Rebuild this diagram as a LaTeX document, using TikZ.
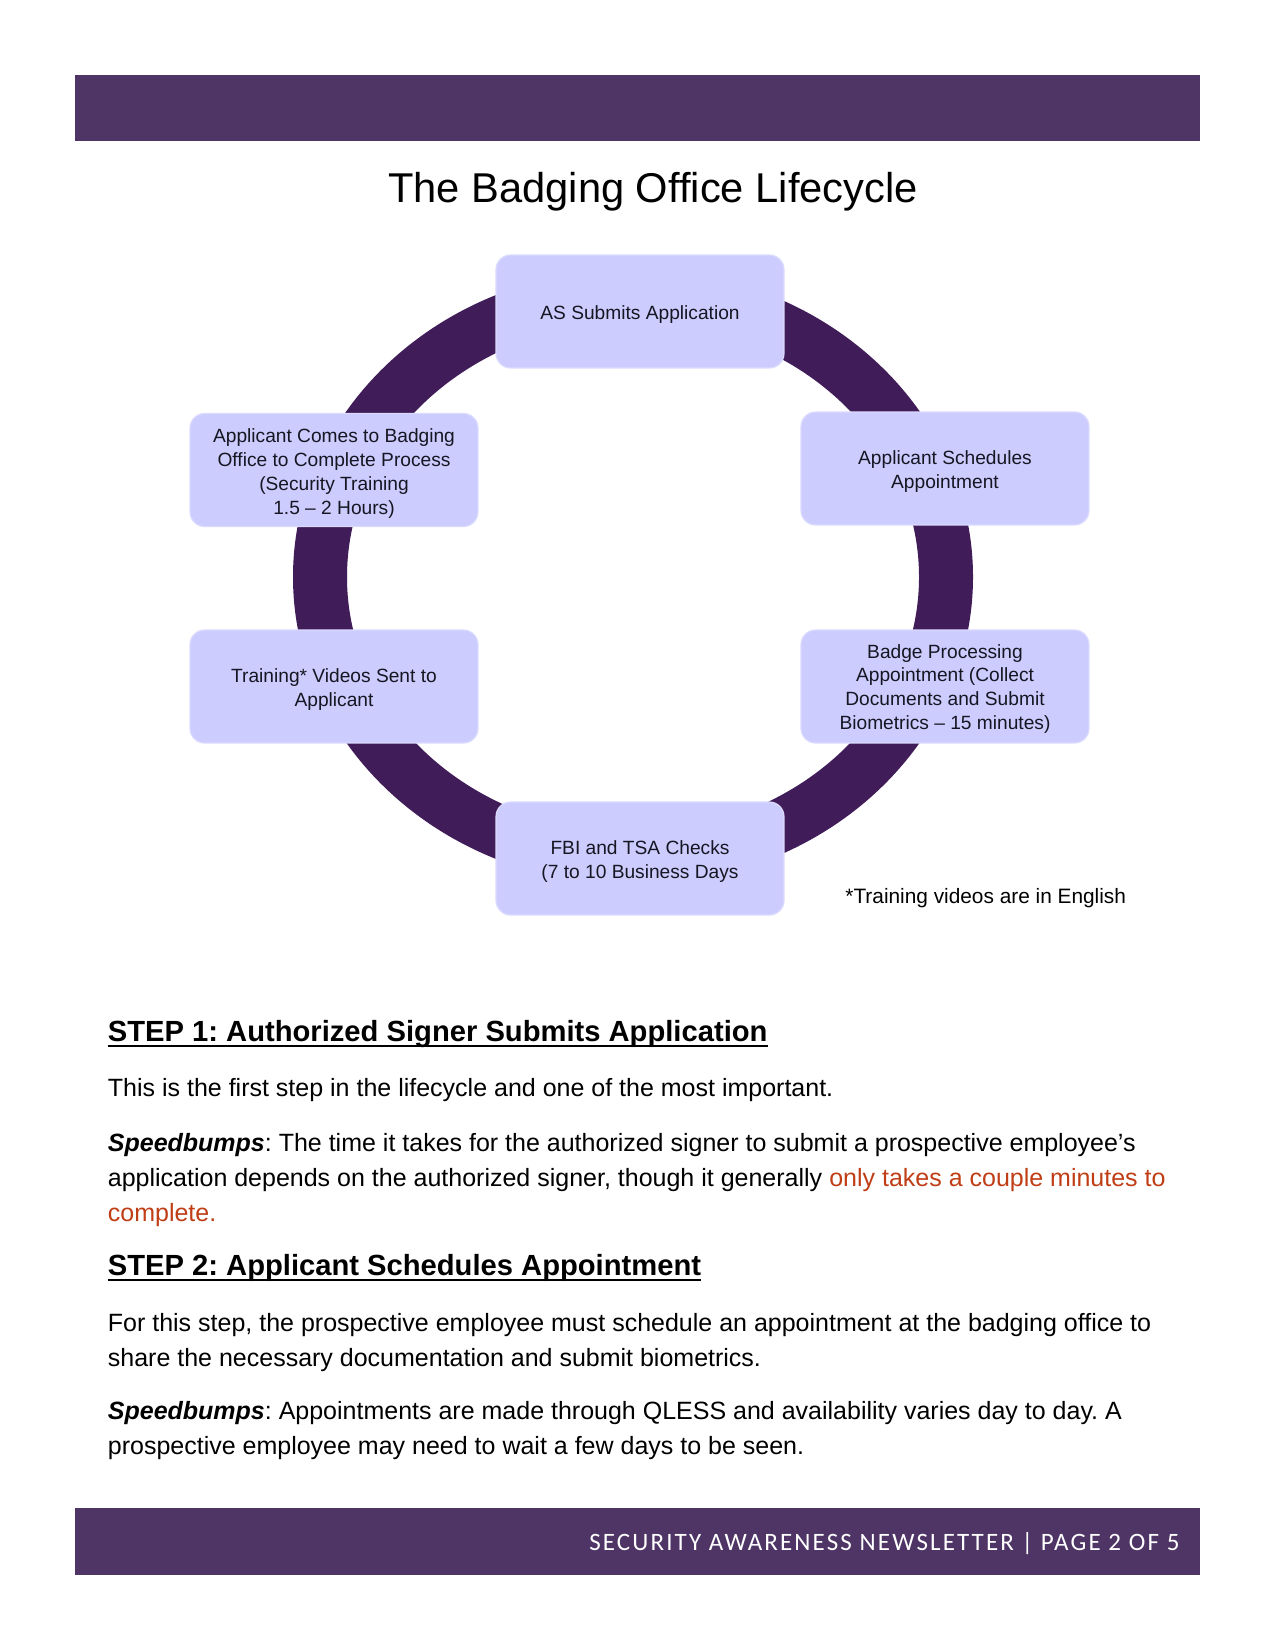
\documentclass[tikz,border=0pt]{standalone}
\usepackage{fontspec}
\setmainfont{Liberation Sans}
\newfontfamily\footfont[LetterSpace=8.5]{Carlito}
\definecolor{barcol}{RGB}{79,52,102}
\definecolor{ringcol}{RGB}{64,28,88}
\definecolor{boxfill}{RGB}{204,204,255}
\definecolor{boxedge}{RGB}{218,218,255}
\definecolor{hilite}{RGB}{192,62,22}
\definecolor{boxtext}{RGB}{22,22,34}
\begin{document}
\frenchspacing
\begin{tikzpicture}[x=0.48pt,y=-0.48pt,
  stage/.style={rectangle, rounded corners=7pt, fill=boxfill, draw=boxedge, line width=0.6pt,
    minimum width=138.2pt, minimum height=54.2pt, inner sep=0pt},
  stagetext/.style={align=center, font=\fontsize{9.2}{11.5}\selectfont, text=boxtext, inner sep=0pt},
  bodyline/.style={anchor=base west, inner sep=0pt, font=\fontsize{12}{14}\selectfont},
  heading/.style={anchor=base west, inner sep=0pt, font=\fontsize{14}{16}\selectfont\bfseries},
  uline/.style={line width=1pt}]
\useasboundingbox (0,0) rectangle (1275,1650);
\fill[white] (0,0) rectangle (1275,1650);
% bars
\fill[barcol] (75,75) rectangle (1200,141);
\fill[barcol] (75,1508) rectangle (1200,1575);
% title
\node[anchor=base, inner sep=0pt, font=\fontsize{20}{24}\selectfont] (title) at (653,203) {The Badging Office Lifecycle};
% ring
\fill[ringcol, even odd rule] (633,577) ellipse [x radius=163.2pt, y radius=147.84pt]
                              (633,577) ellipse [x radius=137.28pt, y radius=122.4pt];
% stages
\node[stage] (s1) at (640,311.5) {};
\node[stage] (s2) at (945,468.5) {};
\node[stage] (s3) at (945,686.5) {};
\node[stage] (s4) at (640,858.5) {};
\node[stage] (s5) at (334,686.5) {};
\node[stage] (s6) at (334,470) {};
\node[stagetext] (t1) at ([yshift=-1.5pt]s1.center) {AS Submits Application};
\node[stagetext] (t2) at ([yshift=-1.5pt]s2.center) {Applicant Schedules\\Appointment};
\node[stagetext] (t3) at ([yshift=-1.2pt]s3.center) {Badge Processing\\Appointment (Collect\\Documents and Submit\\Biometrics -- 15 minutes)};
\node[stagetext] (t4) at ([yshift=-1.5pt]s4.center) {FBI and TSA Checks\\(7 to 10 Business Days};
\node[stagetext] (t5) at ([yshift=-1.5pt]s5.center) {Training* Videos Sent to\\Applicant};
\node[stagetext] (t6) at ([yshift=-1.5pt]s6.center) {Applicant Comes to Badging\\Office to Complete Process\\(Security Training\\1.5 -- 2 Hours)};
\node[anchor=base west, inner sep=0pt, font=\fontsize{10}{12}\selectfont] (note) at (845,903) {*Training videos are in English};
% body text
\node[heading] (h1) at (107.5,1041) {STEP 1: Authorized Signer Submits Application};
\draw[uline] ([yshift=-2.2pt]h1.base west) -- ([yshift=-2.2pt]h1.base east);
\node[bodyline] (l1) at (107.5,1096.5) {This is the first step in the lifecycle and one of the most important.};
\node[bodyline] (l2) at (107.5,1151.5) {\textbf{\textit{Speedbumps}}: The time it takes for the authorized signer to submit a prospective employee’s};
\node[bodyline] (l3) at (107.5,1186.5) {application depends on the authorized signer, though it generally \textcolor{hilite}{only takes a couple minutes to}};
\node[bodyline, text=hilite] (l4) at (107.5,1221) {complete.};
\node[heading] (h2) at (107.5,1275) {STEP 2: Applicant Schedules Appointment};
\draw[uline] ([yshift=-2.2pt]h2.base west) -- ([yshift=-2.2pt]h2.base east);
\node[bodyline] (l5) at (107.5,1331.5) {For this step, the prospective employee must schedule an appointment at the badging office to};
\node[bodyline] (l6) at (107.5,1366.5) {share the necessary documentation and submit biometrics.};
\node[bodyline] (l7) at (107.5,1419) {\textbf{\textit{Speedbumps}}: Appointments are made through QLESS and availability varies day to day. A};
\node[bodyline] (l8) at (107.5,1454) {prospective employee may need to wait a few days to be seen.};
% footer
\node[anchor=base east, inner sep=0pt, text=white, font=\footfont\fontsize{12}{14}\selectfont] (foot) at (1180,1550) {SECURITY AWARENESS NEWSLETTER | PAGE 2 OF 5};
\end{tikzpicture}
\end{document}
